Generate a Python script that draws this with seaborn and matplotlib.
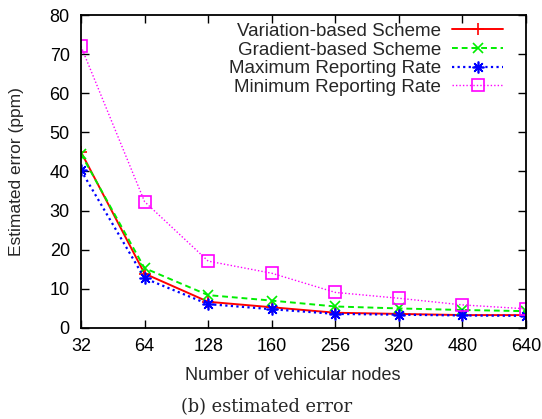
import matplotlib
matplotlib.use("Agg")
import matplotlib.pyplot as plt
import seaborn as sns
import pandas as pd

# Node counts shown as evenly spaced categories
nodes = ["32", "64", "128", "160", "256", "320", "480", "640"]

variation = [45.0, 13.9, 6.7, 5.3, 3.9, 3.6, 3.3, 3.3]
gradient = [44.5, 15.3, 8.4, 7.0, 5.5, 5.0, 4.6, 4.3]
max_rate = [40.3, 12.7, 6.1, 4.8, 3.6, 3.4, 3.2, 3.1]
min_rate = [72.0, 32.3, 17.1, 14.0, 9.1, 7.6, 5.9, 4.9]

series_names = ["Variation-based Scheme", "Gradient-based Scheme",
                "Maximum Reporting Rate", "Minimum Reporting Rate"]
series_values = [variation, gradient, max_rate, min_rate]

rows = []
for name, vals in zip(series_names, series_values):
    for i, v in enumerate(vals):
        rows.append({"pos": i, "error": v, "scheme": name})
df = pd.DataFrame(rows)

sns.set_style("ticks")
plt.rcParams["font.family"] = ["Liberation Sans", "DejaVu Sans"]

fig = plt.figure(figsize=(5.42, 4.19), dpi=100)
ax = fig.add_axes([0.1494, 0.2172, 0.8211, 0.7470])

styles = {
    "Variation-based Scheme": dict(color="#ff0000", ls="-", marker="+", lw=1.4, ms=9, mew=1.2),
    "Gradient-based Scheme": dict(color="#00ee00", ls=(0, (3, 2)), marker="x", lw=1.4, ms=7.5, mew=1.2),
    "Maximum Reporting Rate": dict(color="#0000ff", ls=(0, (1, 1.5)), marker=(8, 2, 0), lw=1.6, ms=8.5, mew=1.2),
    "Minimum Reporting Rate": dict(color="#ff00ff", ls=(0, (1, 1.5)), marker="s", lw=1.0, ms=8, mew=1.2),
}

for name in series_names:
    st = styles[name]
    sub = df[df["scheme"] == name]
    sns.lineplot(data=sub, x="pos", y="error", ax=ax, label=name,
                 color=st["color"], linestyle=st["ls"], linewidth=st["lw"],
                 marker=st["marker"], markersize=st["ms"], markeredgewidth=st["mew"],
                 markerfacecolor="none", markeredgecolor=st["color"])

ax.set_xlim(0, len(nodes) - 1)
ax.set_ylim(0, 80)
ax.set_xticks(range(len(nodes)))
ax.set_xticklabels(nodes)
ax.set_yticks(range(0, 81, 10))
ax.tick_params(axis="both", direction="in", length=6, width=1.0,
               top=True, right=True, labelsize=13, colors="black")
ax.tick_params(axis="y", pad=8)
ax.tick_params(axis="x", pad=7)
for sp in ax.spines.values():
    sp.set_linewidth(1.3)
    sp.set_color("black")

ax.set_xlabel("Number of vehicular nodes", fontsize=13)
ax.set_ylabel("Estimated error (ppm)", fontsize=12.5)
ax.xaxis.set_label_coords(0.475, -0.126)
ax.yaxis.set_label_coords(-0.128, 0.5)

leg = ax.legend(loc="upper right", markerfirst=False, frameon=False,
                fontsize=13.5, handlelength=2.7, handletextpad=0.6,
                labelspacing=0.08, borderpad=0, borderaxespad=0,
                bbox_to_anchor=(0.948, 0.975))

fig.text(0.4926, 0.029, "(b) estimated error", ha="center", va="center",
         fontsize=12.8, family=["DejaVu Serif"])

fig.savefig("out.png", dpi=100)
